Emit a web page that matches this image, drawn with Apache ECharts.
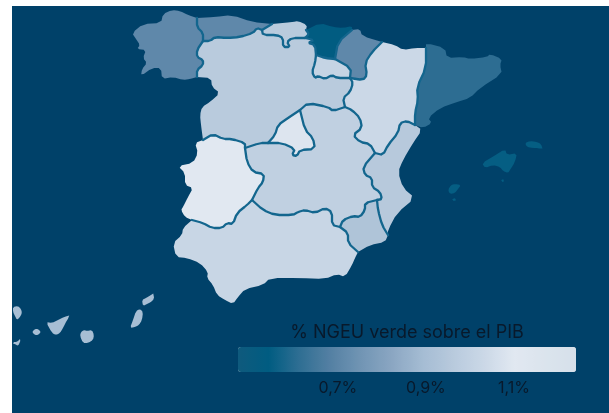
<!DOCTYPE html>
<html>
<head>
<meta charset="utf-8">
<script src="https://cdn.jsdelivr.net/npm/echarts@6/dist/echarts.min.js"></script>
<style>
html,body{margin:0;padding:0;background:#fff;overflow:hidden}
#chart{position:absolute;left:12px;top:6px;width:597px;height:407px;background:#004169}
#chart canvas{filter:blur(.4px)}
</style>
</head>
<body>
<div id="chart"></div>
<script>
var regionNames=['Galicia','Asturias','Cantabria','País Vasco','Navarra','La Rioja','Aragón','Cataluña','Castilla y León','Madrid','Castilla-La Mancha','Extremadura','C. Valenciana','Murcia','Andalucía','Canarias','Baleares']
var regionValues=[0.71,0.71,0.965,0.54,0.71,1.01,1.03,0.61,0.965,1.09,0.99,1.10,0.957,0.93,1.02,0.90,0.55]
var legendTicks=[0.7,0.9,1.1]
var legendMin=0.473
var legendMax=1.241
var legendTitle='% NGEU verde sobre el PIB'
var rampColors=['#0f5a7d','#005c81','#2f6e93','#5480a3','#7195b4','#8aa6c2','#a5bcd3','#b8cadd','#cbd8e7','#e1e8f1','#dbe4ed','#d6e0ea']

// contorno del mapa calcado, tramos compartidos entre regiones (x y x y ...)
var arcs={
galCoast:'197 18 188 15 180 11 172 10 163 14 161 23 143 24 132 33 136 39 140 45 137 49 146 50 143 58 147 63 142 69 141 76 152 68 161 68 162 79 173 77 183 80 190 79 197 77',
galAst:'197 18 197 27 203 33 203 41',
galCyl:'203 41 197 50 197 57 203 60 203 65 197 70 197 77',
astCoast:'197 18 215 17 232 15 252 22 272 24',
astCan:'272 24 262 30',
astCyl:'262 30 257 28 253 33 240 37 227 38 215 37 210 41 203 41',
canCoast:'272 24 293 22 298 21 307 25 306 30',
canCyl:'262 30 263 35 277 35 283 38 283 47 290 47 287 42 292 38 305 38',
canPv:'306 30 309 34 305 38',
pvCoast:'306 30 320 23 333 27 343 28 352 26 352 30',
pvNav:'352 30 338 42 335 59',
pvCyl:'305 38 314 40 308 43 315 45 316 55',
pvRio:'316 55 325 58 335 59',
rioCyl:'316 55 315 63 312 72 315 78 318 76 325 79 332 75 337 78 350 78',
rioNav:'335 59 351 68 350 78',
navCoast:'352 30 360 29 362 36 382 42',
navAra:'382 42 372 52 365 63 367 75 363 80 350 78',
araFrance:'382 42 395 45 403 50 415 48 426 48',
araCat:'426 48 426 68 417 87 418 100 415 113 415 125',
catCoast:'426 48 426 43 445 48 447 58 463 57 470 59 487 57 490 54 502 59 500 65 502 74 480 88 470 98 457 102 440 108 428 118 432 123 423 128 415 125',
araVal:'415 125 407 121 400 123 398 133 388 145 383 155 375 153',
araCyl:'350 78 353 83 350 92 343 98 345 107',
araClm:'345 107 352 110 360 118 362 128 353 135 360 142 370 144 375 153',
valCoast:'415 125 422 130 413 143 403 160 398 172 403 188 415 198 397 213 388 230 388 235',
valClm:'375 153 363 167 365 175 372 178 372 187 380 192 382 199 377 200',
valMur:'377 200 378 210 382 225 388 235',
murCoast:'388 235 385 242 370 245 358 252',
murClm:'377 200 365 203 365 210 360 217 353 216 343 220 340 227',
murAnd:'340 227 348 233 348 243 358 252',
andCoast:'358 252 355 258 352 265 345 277 337 274 325 279 300 278 270 278 263 285 245 289 238 297 233 304 225 300 217 295 213 285 207 278 208 272 200 263 187 258 176 257 173 243 182 235 183 228 192 220',
extAnd:'192 220 203 223 212 228 222 228 227 223 233 224 237 213 247 205 252 200',
andClm:'252 200 263 210 275 215 293 215 298 212 305 210 315 213 325 208 332 212 332 225 340 227',
extClm:'252 200 258 188 263 182 264 174 253 172 247 162 245 148',
extCyl:'245 148 245 143 232 139 223 139 213 134 203 140',
extCoast:'203 140 195 143 198 153 193 163 178 166 185 173 185 185 193 188 188 197 183 207 181 210 185 217 192 220',
cylPort:'203 140 201 125 200 115 202 107 210 102 220 93 212 87 211 78 197 77',
cylClm:'345 107 333 111 328 107 308 103 300 110',
cylMad:'300 110 288 118 278 125 275 135 268 143',
cylClm2:'268 143 260 143 245 148',
madClm:'268 143 282 143 295 149 292 155 297 156 300 150 315 149 313 138 305 130 300 110'
}
// el signo - recorre el tramo al reves
var rings={
'Galicia':'galCoast -galCyl -galAst',
'Asturias':'astCoast astCan astCyl -galAst',
'Cantabria':'canCoast canPv -canCyl -astCan',
'País Vasco':'pvCoast pvNav -pvRio -pvCyl -canPv',
'Navarra':'navCoast navAra -rioNav -pvNav',
'La Rioja':'pvRio rioNav -rioCyl',
'Aragón':'araFrance araCat araVal -araClm -araCyl -navAra',
'Cataluña':'catCoast -araCat',
'Castilla y León':'-astCyl canCyl pvCyl rioCyl araCyl cylClm cylMad cylClm2 extCyl cylPort -galCyl',
'Madrid':'cylMad madClm',
'Castilla-La Mancha':'araClm valClm murClm -andClm extClm -cylClm2 madClm -cylClm',
'Extremadura':'extCoast extAnd extClm extCyl',
'C. Valenciana':'valCoast -valMur -valClm -araVal',
'Murcia':'murCoast -murAnd -murClm valMur',
'Andalucía':'andCoast extAnd andClm murAnd'
}
var islands={
'Canarias':[
'13 307 18 306 21 309 22 313 20 317 17 320 15 316 13 312',
'13 342 17 342 21 338 20 342 18 346 15 344 13 344',
'32 332 35 329 38 329 41 332 38 335 35 335',
'46 322 52 323 58 320 64 317 71 315 67 320 63 328 60 333 56 335 52 333',
'80 336 81 332 84 330 87 331 92 330 94 335 93 340 88 343 83 343',
'130 328 133 320 136 311 140 309 143 312 142 320 139 325 135 327',
'142 300 146 298 151 295 154 293 154 299 151 302 147 304 143 306'],
'Baleares':[
'482 163 494 156 505 149 507 155 517 153 515 162 510 170 508 173 503 171 500 167 493 165 485 168',
'525 143 530 141 537 142 541 144 543 150 538 148 533 148 527 147',
'448 190 451 185 455 184 461 185 458 189 455 193 450 194',
'452 199 456 198 456 201 453 201',
'501 180 504 179 504 182 502 182']
}
// fronteras interiores, se pintan encima sin tocar la costa
var borderArcs=['galAst','galCyl','astCan','astCyl','canCyl','canPv','pvCyl','pvRio','pvNav','rioCyl','rioNav','navAra','araCat','araVal','araCyl','araClm','valClm','valMur','murClm','murAnd','extAnd','andClm','extClm','extCyl','cylClm','cylMad','cylClm2','madClm']

function pts(s){
	var n=s.split(' '),out=[]
	for(var i=0;i<n.length;i+=2){out.push([+n[i],+n[i+1]])}
	return out
}
// redondea las esquinas del calco, los extremos del tramo no se mueven
function soften(p,closed){
	var out=closed?[]:[p[0]]
	var last=closed?p.length:p.length-1
	for(var i=0;i<last;i++){
		var a=p[i],b=p[(i+1)%p.length]
		out.push([a[0]*.75+b[0]*.25,a[1]*.75+b[1]*.25])
		out.push([a[0]*.25+b[0]*.75,a[1]*.25+b[1]*.75])
	}
	if(!closed){out.push(p[p.length-1])}
	return out
}
function arcPts(name){return soften(pts(arcs[name]),false)}
function buildRing(s){
	var out=[]
	s.split(' ').forEach(function(a){
		var p=a[0]=='-'?arcPts(a.slice(1)).reverse():arcPts(a)
		out=out.concat(p)
	})
	out.push(out[0])
	return out
}
var features=[]
regionNames.forEach(function(name){
	var coords
	if(rings[name]){
		coords=[[buildRing(rings[name])]]
	}else{
		coords=islands[name].map(function(s){var p=soften(pts(s),true);p.push(p[0]);return [p]})
	}
	features.push({type:'Feature',properties:{name:name},geometry:{type:'MultiPolygon',coordinates:coords}})
})
echarts.registerMap('espana',{type:'FeatureCollection',features:features})

var mapData=regionNames.map(function(n,i){return {name:n,value:regionValues[i]}})
var borderData=borderArcs.map(function(a){return {coords:arcPts(a)}})

var mychart=echarts.init(document.getElementById('chart'))
var option={
	animation:false,
	backgroundColor:'transparent',
	title:{
		text:legendTitle,
		left:390,
		top:313,
		textAlign:'center',
		textStyle:{color:'#08192b',fontSize:18,fontWeight:'normal',fontFamily:'Inter'}
	},
	geo:{
		map:'espana',
		projection:{
			project:function(p){return [p[0],p[1]]},
			unproject:function(p){return [p[0],p[1]]}
		},
		boundingCoords:[[12,6],[609,413]],
		aspectScale:1,
		left:0,top:0,width:597,height:407,
		roam:false,
		silent:true,
		label:{show:false},
		itemStyle:{areaColor:'#b8cade',borderWidth:0}
	},
	visualMap:{
		type:'continuous',
		min:legendMin,
		max:legendMax,
		seriesIndex:0,
		orient:'horizontal',
		left:226,
		top:341,
		padding:0,
		itemWidth:25,
		itemHeight:338,
		calculable:false,
		realtime:false,
		text:['',''],
		textGap:0,
		showLabel:false,
		inRange:{color:rampColors}
	},
	grid:{left:226,top:341,width:338,height:25},
	xAxis:{
		type:'value',
		min:legendMin,
		max:legendMax,
		splitLine:{show:false},
		axisLine:{show:false},
		axisTick:{show:false},
		axisLabel:{
			customValues:legendTicks,
			margin:8,
			color:'#08192b',
			fontSize:16,
			fontFamily:'Inter',
			formatter:function(v){return v.toFixed(1).replace('.',',')+'%'}
		}
	},
	yAxis:{type:'category',show:false,data:['']},
	series:[
		{
			type:'map',
			geoIndex:0,
			silent:true,
			data:mapData
		},
		{
			type:'lines',
			coordinateSystem:'geo',
			polyline:true,
			silent:true,
			lineStyle:{color:'#13668e',width:2.3,opacity:1,cap:'round',join:'round'},
			data:borderData
		}
	]
}
mychart.setOption(option)
</script>
</body>
</html>
